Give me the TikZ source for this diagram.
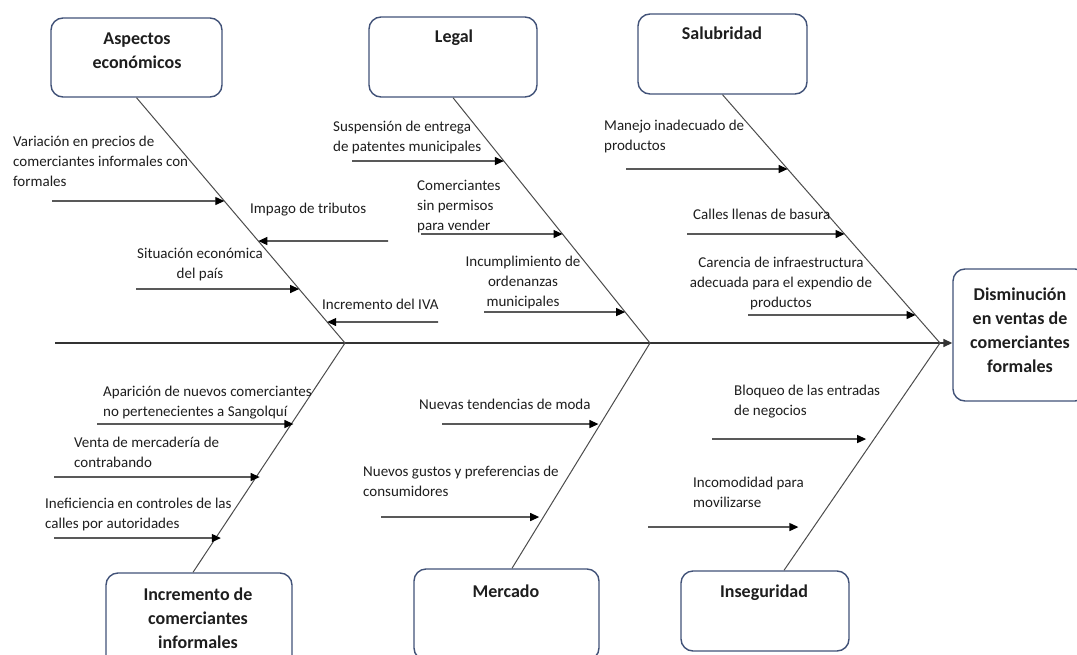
\documentclass[tikz,border=0pt]{standalone}
\usepackage{fontspec}
\setmainfont{Carlito}
\usetikzlibrary{arrows.meta}
\definecolor{boxblue}{RGB}{65,82,120}
\definecolor{txt}{RGB}{30,30,30}
\tikzset{
  box/.style={draw=boxblue, line width=1.4pt, rounded corners=12pt, inner sep=0pt},
  title/.style={font=\bfseries\fontsize{18}{24}\selectfont, align=center, inner sep=0pt, anchor=base, text=txt},
  lab/.style={font=\fontsize{15}{19.8}\selectfont, align=left, inner sep=0pt, anchor=base west, text=txt},
  labc/.style={font=\fontsize{15}{19.8}\selectfont, align=center, inner sep=0pt, anchor=base, text=txt},
  bone/.style={draw=black!70, line width=1pt},
  arr/.style={draw=black, line width=1.2pt, -{Triangle[length=9pt,width=8pt]}},
  spine/.style={draw=black!80, line width=1.5pt, -{Triangle[length=9pt,width=8pt]}}
}
\begin{document}
\begin{tikzpicture}[x=1pt,y=-1pt]
\path[use as bounding box, clip] (0,0) rectangle (1077,654);
\fill[white] (0,0) rectangle (1077,654);

% boxes
\node[box, minimum width=171pt, minimum height=79pt] (asp) at (136.5,57.5) {};
\node[box, minimum width=168pt, minimum height=80pt] (leg) at (453,57) {};
\node[box, minimum width=169pt, minimum height=80pt] (sal) at (722.5,54) {};
\node[box, minimum width=134pt, minimum height=132pt] (eff) at (1020,335) {};
\node[box, minimum width=186pt, minimum height=97pt] (inc) at (199,621.5) {};
\node[box, minimum width=185pt, minimum height=91pt] (mer) at (506.5,614.5) {};
\node[box, minimum width=168pt, minimum height=80pt] (ins) at (765,611) {};

% titles (anchor = baseline of last line)
\node[title] (tasp) at (137,68) {Aspectos\\económicos};
\node[title] (tleg) at (454,42) {Legal};
\node[title] (tsal) at (722,39) {Salubridad};
\node[title] (teff) at (1020,372) {Disminución\\en ventas de\\comerciantes\\formales};
\node[title] (tinc) at (198,648) {Incremento de\\comerciantes\\informales};
\node[title] (tmer) at (506,597) {Mercado};
\node[title] (tins) at (764,597) {Inseguridad};

% spine and junctions
\coordinate (sp0) at (55,343);
\coordinate (j1) at (345,343);
\coordinate (j2) at (650,343);
\coordinate (j3) at (940,343);
\draw[spine] (sp0) -- (sp0 -| eff.west);

% bones
\draw[bone] (asp.south) -- (j1);
\draw[bone] (leg.south) -- (j2);
\draw[bone] (sal.south) -- (j3);
\draw[bone] (j1) -- ([xshift=-6pt]inc.north);
\draw[bone] (j2) -- ([xshift=5.5pt]mer.north);
\draw[bone] (j3) -- ([xshift=19pt]ins.north);

% Aspectos economicos
\coordinate (a1s) at (52,201);
\coordinate (a1e) at (intersection of asp.south--j1 and 0,201--1,201);
\draw[arr] (a1s) -- (a1e);
\coordinate (a2s) at (388,241);
\coordinate (a2e) at (intersection of asp.south--j1 and 0,241--1,241);
\draw[arr] (a2s) -- (a2e);
\coordinate (a3s) at (136,289);
\coordinate (a3e) at (intersection of asp.south--j1 and 0,289--1,289);
\draw[arr] (a3s) -- (a3e);
\coordinate (a4s) at (438,322);
\coordinate (a4e) at (intersection of asp.south--j1 and 0,322--1,322);
\draw[arr] (a4s) -- (a4e);
\node[lab] (la1) at (13,186) {Variación en precios de\\comerciantes informales con\\formales};
\node[lab] (la2) at (250,213) {Impago de tributos};
\node[labc] (la3) at (200,278) {Situación económica\\del país};
\node[lab] (la4) at (322,309) {Incremento del IVA};

% Legal
\coordinate (b1s) at (352,161);
\coordinate (b1e) at (intersection of leg.south--j2 and 0,161--1,161);
\draw[arr] (b1s) -- (b1e);
\coordinate (b2s) at (421,234);
\coordinate (b2e) at (intersection of leg.south--j2 and 0,234--1,234);
\draw[arr] (b2s) -- (b2e);
\coordinate (b3s) at (484,312);
\coordinate (b3e) at (intersection of leg.south--j2 and 0,312--1,312);
\draw[arr] (b3s) -- (b3e);
\node[lab] (lb1) at (333,151) {Suspensión de entrega\\de patentes municipales};
\node[lab] (lb2) at (417,230) {Comerciantes\\sin permisos\\para vender};
\node[labc] (lb3) at (523,306) {Incumplimiento de\\ordenanzas\\municipales};

% Salubridad
\coordinate (c1s) at (626,169);
\coordinate (c1e) at (intersection of sal.south--j3 and 0,169--1,169);
\draw[arr] (c1s) -- (c1e);
\coordinate (c2s) at (687,234);
\coordinate (c2e) at (intersection of sal.south--j3 and 0,234--1,234);
\draw[arr] (c2s) -- (c2e);
\coordinate (c3s) at (748,315);
\coordinate (c3e) at (intersection of sal.south--j3 and 0,315--1,315);
\draw[arr] (c3s) -- (c3e);
\node[lab] (lc1) at (604,150) {Manejo inadecuado de\\productos};
\node[lab] (lc2) at (693,219) {Calles llenas de basura};
\node[labc] (lc3) at (781,307) {Carencia de infraestructura\\adecuada para el expendio de\\productos};

% Incremento de comerciantes informales
\coordinate (d1s) at (97,424);
\coordinate (d1e) at (intersection of j1--inc.north and 0,424--1,424);
\draw[arr] (d1s) -- (d1e);
\coordinate (d2s) at (54,477);
\coordinate (d2e) at (intersection of j1--inc.north and 0,477--1,477);
\draw[arr] (d2s) -- (d2e);
\coordinate (d3s) at (54,538);
\coordinate (d3e) at (intersection of j1--inc.north and 0,538--1,538);
\draw[arr] (d3s) -- (d3e);
\node[lab] (ld1) at (103,416) {Aparición de nuevos comerciantes\\no pertenecientes a Sangolquí};
\node[lab] (ld2) at (74,467) {Venta de mercadería de\\contrabando};
\node[lab] (ld3) at (45,528) {Ineficiencia en controles de las\\calles por autoridades};

% Mercado
\coordinate (e1s) at (442,424);
\coordinate (e1e) at (intersection of j2--mer.north and 0,424--1,424);
\draw[arr] (e1s) -- (e1e);
\coordinate (e2s) at (381,517);
\coordinate (e2e) at (intersection of j2--mer.north and 0,517--1,517);
\draw[arr] (e2s) -- (e2e);
\node[lab] (le1) at (419,409) {Nuevas tendencias de moda};
\node[lab] (le2) at (363,496) {Nuevos gustos y preferencias de\\consumidores};

% Inseguridad
\coordinate (f1s) at (712,439);
\coordinate (f1e) at (intersection of j3--ins.north and 0,439--1,439);
\draw[arr] (f1s) -- (f1e);
\coordinate (f2s) at (648,527);
\coordinate (f2e) at (intersection of j3--ins.north and 0,527--1,527);
\draw[arr] (f2s) -- (f2e);
\node[lab] (lf1) at (734,415) {Bloqueo de las entradas\\de negocios};
\node[lab] (lf2) at (693,507) {Incomodidad para\\movilizarse};
\end{tikzpicture}
\end{document}
